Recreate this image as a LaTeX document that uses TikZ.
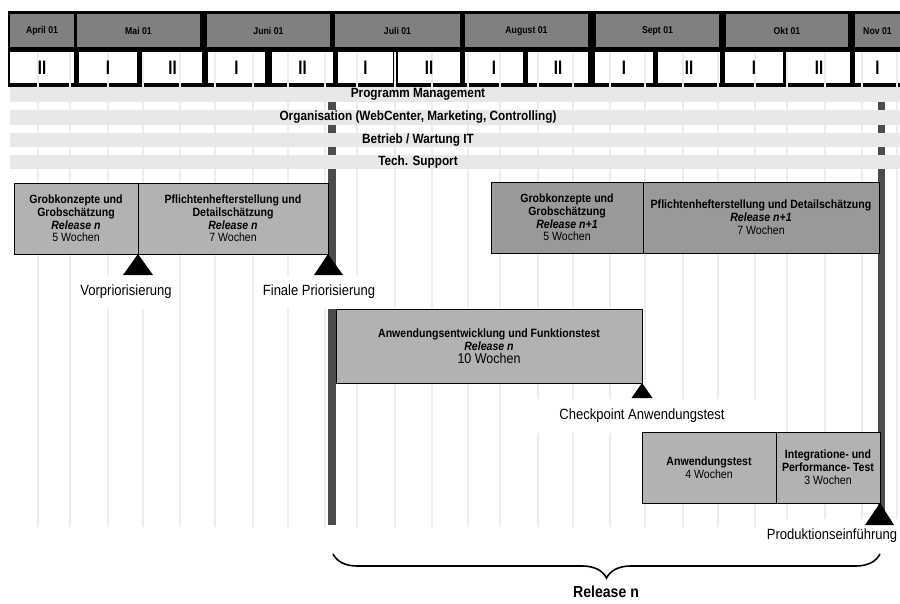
\documentclass[tikz,border=0pt]{standalone}
\usepackage{fontspec}
\setmainfont{Liberation Sans}[FakeStretch=0.88]
\usetikzlibrary{decorations.pathreplacing}
\definecolor{monatgrau}{gray}{0.50}
\definecolor{balkengrau}{gray}{0.91}
\definecolor{rastergrau}{gray}{0.93}
\definecolor{phasegrau}{gray}{0.70}
\definecolor{phasedunkel}{gray}{0.60}
\definecolor{meilenstein}{gray}{0.30}
\begin{document}
\begin{tikzpicture}[x=1pt,y=-1pt,
  kopf/.style={font=\bfseries\fontsize{9.9}{11}\selectfont},
  woche/.style={font=\bfseries\fontsize{17}{18}\selectfont},
  balkentext/.style={font=\bfseries\fontsize{13.4}{14}\selectfont},
  phase/.style={draw=black,line width=0.9,fill=phasegrau,inner sep=0,outer sep=0,
    align=center,font=\fontsize{12}{12.8}\selectfont},
  phasezwei/.style={phase,fill=phasedunkel},
  marke/.style={fill=white,inner xsep=6,inner ysep=10,font=\fontsize{14.8}{16}\selectfont}]
\useasboundingbox (0,0) rectangle (900,603);
\fill[black] (8,11) rectangle (900,87);
\foreach \a/\b/\m in {10/74/April 01,77/200/Mai 01,207/330/Juni 01,335/460/Juli 01,
    465/588/August 01,596/719/Sept 01,726/848/Okt 01,855/900/Nov 01} {
  \fill[monatgrau] (\a,14) rectangle (\b,47);
  \node[kopf] (monat\a) at ({(\a+\b)/2},31) {\m};
}
\foreach \a/\b in {10/74,79/137,143/202,208/265,272/333,338/393,398/460,
    465/523,528/588,595/653,658/720,725/783,788/850,855/900}
  \fill[white] (\a,52) rectangle (\b,83);
\foreach \x in {38,70,108,143,180,215,253,288,325,357,395,432,468,500,538,573,
    610,645,683,718,755,787,825,862,897}
  \draw[rastergrau,line width=1.2] (\x,52) -- (\x,527);
\foreach \a/\b/\w in {10/74/II,79/137/I,143/202/II,208/265/I,272/333/II,338/393/I,
    398/460/II,465/523/I,528/588/II,595/653/I,658/720/II,725/783/I,788/850/II,855/900/I}
  \node[woche] (woche\a) at ({(\a+\b)/2},67.5) {\scalebox{1}[1.15]{\w}};
\fill[meilenstein] (328,87) rectangle (336,525);
\fill[meilenstein] (878,87) rectangle (885,512);
\foreach \a/\b/\t/\n in {87/102/Programm Management/pm,
    110/125/{Organisation (WebCenter, Marketing, Controlling)}/org,
    133/147/{Betrieb / Wartung IT}/betrieb,155/169/Tech. Support/support} {
  \fill[balkengrau] (10,\a) rectangle (900,\b);
  \node[balkentext] (\n) at (418,{(\a+\b)/2}) {\t};
}
\node[marke] (vorprio) at (126,292) {Vorpriorisierung};
\node[marke] (finale) at (319,292) {Finale Priorisierung};
\node[marke,minimum width=230] (check) at (642,416) {Checkpoint Anwendungstest};
\node[marke] (prod) at (832,536) {Produktionseinführung};
\node[phase,minimum width=124,minimum height=71] (grobn) at (76,218.5)
  {\textbf{Grobkonzepte und}\\\textbf{Grobschätzung}\\\textbf{\textit{Release n}}\\5 Wochen};
\node[phase,minimum width=190,minimum height=71] (pflichtn) at (233,218.5)
  {\textbf{Pflichtenhefterstellung und}\\\textbf{Detailschätzung}\\\textbf{\textit{Release n}}\\7 Wochen};
\node[phasezwei,minimum width=152,minimum height=71] (grobm) at (567,217.5)
  {\textbf{Grobkonzepte und}\\\textbf{Grobschätzung}\\\textbf{\textit{Release n+1}}\\5 Wochen};
\node[phasezwei,minimum width=236,minimum height=71] (pflichtm) at (761,217.5)
  {\textbf{Pflichtenhefterstellung und Detailschätzung}\\\textbf{\textit{Release n+1}}\\7 Wochen};
\node[phase,minimum width=306,minimum height=74] (anwend) at (489,346)
  {\textbf{Anwendungsentwicklung und Funktionstest}\\\textbf{\textit{Release n}}\\{\fontsize{14.2}{15}\selectfont 10 Wochen}};
\node[phase,minimum width=134,minimum height=71] (atest) at (709,467.5)
  {\textbf{Anwendungstest}\\4 Wochen};
\node[phase,minimum width=104,minimum height=71] (integ) at (828,467.5)
  {\textbf{Integratione- und}\\\textbf{Performance- Test}\\3 Wochen};
\fill (grobn.south east) -- ++(-15,21) -- ++(30,0) -- cycle;
\fill (pflichtn.south east) -- ++(-14,21) -- ++(29,0) -- cycle;
\fill (anwend.south east) -- ++(-10.5,15) -- ++(21,0) -- cycle;
\fill (integ.south east) -- ++(-15,22) -- ++(29,0) -- cycle;
\coordinate (rlinks) at (333,554);
\coordinate (rrechts) at (880,554);
\draw[line width=1.6,decorate,decoration={brace,mirror,amplitude=24}] (rlinks) -- (rrechts);
\node[font=\bfseries\fontsize{16}{18}\selectfont] (release) at (606,592) {Release n};
\end{tikzpicture}
\end{document}
